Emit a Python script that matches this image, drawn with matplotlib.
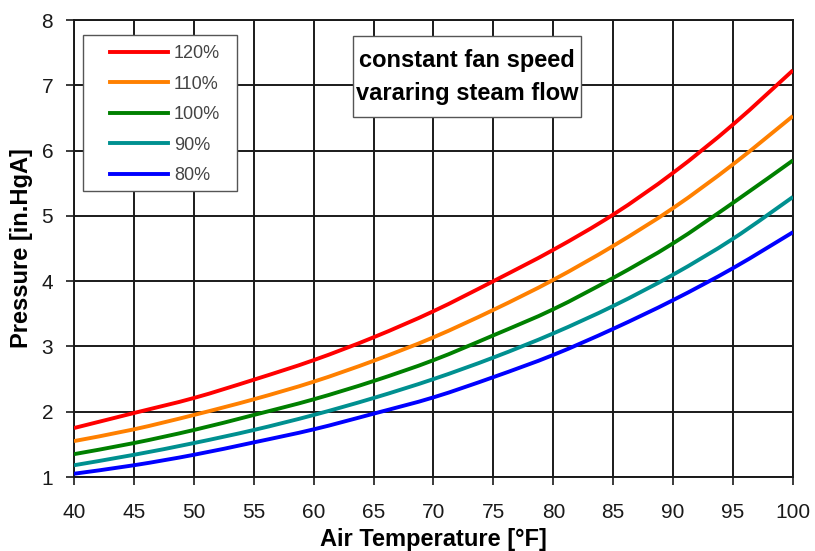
import matplotlib
matplotlib.use("Agg")
import matplotlib.pyplot as plt
from matplotlib.patches import Rectangle, PathPatch
from matplotlib.path import Path
from matplotlib.lines import Line2D

plt.rcParams['font.family'] = ['Liberation Sans', 'DejaVu Sans']

# Air temperature [°F]
temperature = [40, 45, 50, 55, 60, 65, 70, 75, 80, 85, 90, 95, 100]

# Condenser pressure [in.HgA] for each steam flow
p_120 = [1.75, 1.98, 2.21, 2.49, 2.79, 3.14, 3.54, 4.00, 4.48, 5.02, 5.66, 6.40, 7.23]
p_110 = [1.55, 1.73, 1.95, 2.19, 2.46, 2.78, 3.14, 3.56, 4.02, 4.54, 5.12, 5.79, 6.53]
p_100 = [1.35, 1.52, 1.72, 1.95, 2.19, 2.47, 2.79, 3.17, 3.57, 4.05, 4.58, 5.20, 5.85]
p_90 = [1.18, 1.34, 1.52, 1.72, 1.95, 2.21, 2.50, 2.83, 3.20, 3.62, 4.10, 4.65, 5.29]
p_80 = [1.05, 1.18, 1.34, 1.53, 1.73, 1.97, 2.22, 2.53, 2.87, 3.27, 3.71, 4.20, 4.75]

series_labels = ['120%', '110%', '100%', '90%', '80%']
series_values = [p_120, p_110, p_100, p_90, p_80]
series_colors = ['#ff0000', '#ff8000', '#008000', '#009090', '#0000ff']

x_ticks = list(range(40, 101, 5))
y_ticks = list(range(1, 9))


def smooth_path(xs, ys):
    """Smoothed line through the points using Catmull-Rom Bezier segments."""
    pts = list(zip(xs, ys))
    n = len(pts)
    verts = [pts[0]]
    codes = [Path.MOVETO]
    for i in range(n - 1):
        p0 = pts[i - 1] if i > 0 else pts[i]
        p1 = pts[i]
        p2 = pts[i + 1]
        p3 = pts[i + 2] if i + 2 < n else pts[i + 1]
        c1 = (p1[0] + (p2[0] - p0[0]) / 6, p1[1] + (p2[1] - p0[1]) / 6)
        c2 = (p2[0] - (p3[0] - p1[0]) / 6, p2[1] - (p3[1] - p1[1]) / 6)
        verts += [c1, c2, p2]
        codes += [Path.CURVE4] * 3
    return Path(verts, codes)


fig = plt.figure(figsize=(8.15, 5.51), dpi=100)
ax = fig.add_axes([0.0908, 0.1343, 0.8822, 0.8294])

lw = 2.8
handles = []
for label, vals, col in zip(series_labels, series_values, series_colors):
    ax.add_patch(PathPatch(smooth_path(temperature, vals), fill=False,
                           edgecolor=col, lw=lw, capstyle='butt', zorder=3))
    handles.append(Line2D([], [], color=col, lw=lw, label=label))

ax.set_xlim(40, 100)
ax.set_ylim(1, 8)
ax.set_xticks(x_ticks)
ax.set_yticks(y_ticks)
ax.grid(True, color='#1a1a1a', lw=1.4, zorder=1)
ax.set_axisbelow(True)
for s in ax.spines.values():
    s.set_color('#1a1a1a')
    s.set_linewidth(1.4)
ax.tick_params(direction='out', length=6, width=1.2, color='#1a1a1a',
               labelsize=15, labelcolor='#1a1a1a')
ax.tick_params(axis='x', pad=13)
ax.tick_params(axis='y', pad=9)

ax.set_xlabel('Air Temperature [°F]', fontsize=17, fontweight='bold',
              labelpad=4)
ax.set_ylabel('Pressure [in.HgA]', fontsize=17, fontweight='bold',
              labelpad=6)

# legend frame drawn as a separate box so the padding can be set freely
ax.add_patch(Rectangle((0.0125, 0.626), 0.2142, 0.341, transform=ax.transAxes,
                       facecolor='white', edgecolor='#555555', lw=1.0,
                       zorder=4))
leg = ax.legend(handles=handles, loc='upper left',
                bbox_to_anchor=(0.05, 0.945), borderaxespad=0,
                borderpad=0.0, frameon=False, fontsize=13,
                handlelength=3.2, handletextpad=0.35, labelspacing=0.75)
leg.set_zorder(5)
for t in leg.get_texts():
    t.set_color('#444444')

# annotation box
ax.add_patch(Rectangle((0.388, 0.788), 0.317, 0.177, transform=ax.transAxes,
                       facecolor='white', edgecolor='#555555', lw=1.0,
                       zorder=4))
ax.text(0.547, 0.876, 'constant fan speed\nvararing steam flow',
        transform=ax.transAxes, ha='center', va='center', fontsize=17,
        fontweight='bold', linespacing=1.55, zorder=5)

fig.savefig('out.png', dpi=100)
